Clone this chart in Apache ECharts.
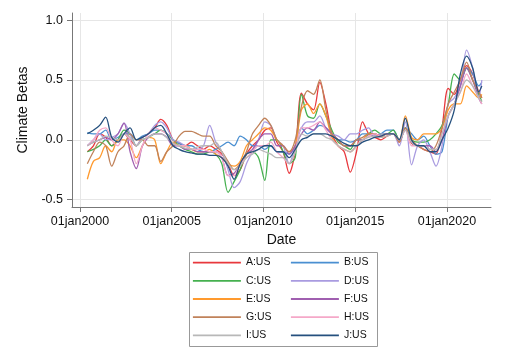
<!DOCTYPE html>
<html><head><meta charset="utf-8">
<script src="https://cdn.jsdelivr.net/npm/echarts@6/dist/echarts.min.js"></script>
<style>html,body{margin:0;padding:0;background:#fff}#c{width:512px;height:347px}</style>
</head><body><div id="c"></div>
<script>
const dates = [2000.40,2000.73,2001.07,2001.40,2001.73,2002.07,2002.40,2002.73,2003.07,2003.40,2003.73,2004.07,2004.40,2004.73,2005.07,2005.40,2005.73,2006.07,2006.40,2006.73,2007.07,2007.40,2007.73,2008.07,2008.40,2008.73,2009.07,2009.40,2009.73,2010.07,2010.40,2010.73,2011.07,2011.40,2011.73,2012.07,2012.40,2012.73,2013.07,2013.40,2013.73,2014.07,2014.40,2014.73,2015.07,2015.40,2015.73,2016.07,2016.40,2016.73,2017.07,2017.40,2017.73,2018.07,2018.40,2018.73,2019.07,2019.40,2019.73,2020.07,2020.40,2020.73,2021.07,2021.40,2021.73,2021.90];
const xTicks = [2000,2005,2010,2015,2020];
const yTicks = [-0.5,0,0.5,1.0];
const names = ['A:US','B:US','C:US','D:US','E:US','F:US','G:US','H:US','I:US','J:US'];
const A = [-0.1,-0.05,0.05,0.02,-0.05,0.0,0.05,0.0,-0.05,0.02,0.05,0.1,0.17,0.12,0.0,-0.03,-0.05,-0.02,-0.05,-0.08,-0.05,-0.08,-0.12,-0.2,-0.3,-0.25,-0.12,-0.05,0.0,0.08,0.1,-0.02,-0.1,-0.28,-0.1,0.39,0.3,0.25,0.48,0.3,0.05,-0.05,-0.1,-0.27,-0.1,0.15,0.05,0.02,0.0,0.03,0.05,-0.02,0.1,-0.03,-0.05,-0.08,-0.1,-0.12,0.1,0.43,0.38,0.5,0.62,0.55,0.4,0.35];
const B = [0.06,0.05,0.05,0.08,0.0,0.02,0.05,0.05,0.0,0.03,0.05,0.08,0.08,0.05,0.0,-0.03,-0.05,-0.05,-0.08,-0.1,-0.1,-0.08,-0.05,-0.02,-0.05,0.03,0.0,-0.05,-0.05,-0.08,-0.05,-0.1,-0.1,-0.12,-0.05,0.1,0.05,0.08,0.12,0.1,0.05,0.0,0.0,-0.02,0.0,0.05,0.05,0.03,0.05,0.08,0.08,0.0,0.1,0.05,0.0,0.03,-0.05,-0.12,-0.1,0.2,0.3,0.45,0.6,0.55,0.45,0.48];
const C = [-0.1,-0.08,-0.05,0.0,-0.05,0.0,0.08,0.05,-0.05,0.0,0.02,0.05,0.08,0.05,0.0,-0.05,-0.08,-0.1,-0.12,-0.12,-0.1,-0.12,-0.2,-0.44,-0.35,-0.25,-0.12,-0.1,-0.15,-0.34,0.0,0.0,-0.1,-0.2,-0.15,0.38,0.2,0.18,0.3,0.2,0.08,-0.02,-0.05,-0.08,0.0,0.0,0.05,0.08,0.05,0.05,0.08,0.0,0.1,0.0,-0.02,-0.02,0.0,0.05,0.12,0.3,0.55,0.5,0.6,0.5,0.38,0.32];
const D = [-0.05,0.0,0.05,0.0,0.02,0.05,0.14,0.05,-0.05,0.02,0.05,0.12,0.15,0.1,0.0,-0.02,-0.05,-0.08,-0.08,-0.05,0.12,-0.02,-0.1,-0.25,-0.4,-0.35,-0.2,-0.1,0.0,0.15,0.12,0.0,-0.05,-0.2,-0.05,0.1,0.15,0.15,0.2,0.1,0.05,0.03,0.0,0.05,0.05,0.08,0.1,0.03,0.05,0.05,0.05,-0.05,0.15,-0.21,-0.05,0.0,-0.1,-0.22,-0.05,0.3,0.35,0.45,0.75,0.6,0.35,0.5];
const E = [-0.33,-0.18,-0.15,-0.05,-0.1,0.0,0.0,-0.05,-0.15,-0.05,0.02,0.0,-0.2,-0.1,-0.02,-0.05,-0.05,-0.08,-0.1,-0.1,-0.08,-0.12,-0.15,-0.2,-0.22,-0.18,-0.05,0.0,0.05,0.1,0.08,0.0,-0.05,-0.1,-0.05,0.25,0.3,0.22,0.3,0.2,0.02,-0.05,-0.08,-0.1,-0.05,0.0,0.05,0.05,0.02,0.05,0.05,0.0,0.2,0.02,0.0,0.05,0.05,0.05,0.1,0.25,0.3,0.3,0.45,0.4,0.35,0.38];
const F = [-0.05,-0.02,0.0,0.02,0.0,0.05,0.14,-0.1,-0.24,-0.05,0.02,0.05,0.05,0.02,-0.05,-0.05,-0.08,-0.08,-0.1,-0.1,-0.1,-0.1,-0.15,-0.3,-0.28,-0.2,-0.12,-0.08,0.0,0.05,0.05,-0.05,-0.05,-0.12,-0.05,0.05,0.1,0.08,0.15,0.1,0.05,0.0,-0.05,-0.05,0.0,0.0,0.03,0.05,0.03,0.05,0.05,0.0,0.08,-0.02,-0.05,-0.05,-0.05,-0.1,0.0,0.2,0.3,0.45,0.6,0.5,0.35,0.3];
const G = [-0.2,-0.1,-0.02,-0.05,-0.22,-0.1,-0.05,0.05,0.0,0.0,-0.05,-0.05,-0.18,-0.1,-0.05,0.03,0.07,0.07,0.05,0.03,0.03,-0.05,-0.1,-0.18,-0.25,-0.2,-0.1,0.05,0.12,0.18,0.12,0.0,-0.05,-0.1,0.0,0.28,0.41,0.38,0.5,0.25,0.05,0.0,-0.05,-0.05,0.0,0.02,0.05,0.05,0.03,0.05,0.05,-0.02,0.1,0.0,-0.05,-0.08,-0.1,-0.05,0.1,0.3,0.4,0.5,0.65,0.5,0.4,0.35];
const H = [-0.05,0.0,0.08,0.1,0.0,-0.05,0.05,0.0,-0.2,-0.05,0.05,0.1,0.08,0.05,-0.03,-0.05,-0.05,-0.08,-0.08,-0.08,-0.1,-0.1,-0.15,-0.3,-0.3,-0.2,-0.15,-0.1,-0.05,-0.05,-0.02,-0.1,-0.15,-0.2,-0.1,0.1,0.1,0.12,0.15,0.08,0.0,-0.05,-0.08,-0.1,-0.05,0.0,0.03,0.05,0.03,0.05,0.05,0.0,0.08,-0.05,-0.05,-0.05,-0.08,-0.08,0.05,0.2,0.3,0.4,0.55,0.45,0.35,0.3];
const I = [-0.05,-0.02,0.0,0.03,0.02,0.0,0.05,0.02,-0.05,0.0,0.02,0.05,0.05,0.02,-0.03,-0.05,-0.07,-0.08,-0.06,-0.05,-0.05,-0.02,-0.1,-0.2,-0.25,-0.22,-0.15,-0.12,-0.08,-0.1,-0.12,-0.15,-0.15,-0.2,-0.1,0.05,0.03,0.05,0.05,0.02,0.0,-0.05,-0.08,-0.1,-0.05,0.0,0.02,0.03,0.02,0.03,0.05,0.0,0.08,-0.02,-0.05,-0.05,-0.08,-0.08,0.05,0.2,0.3,0.4,0.5,0.45,0.35,0.32];
const J = [0.05,0.08,0.12,0.19,0.02,-0.02,0.05,0.1,0.0,0.02,0.05,0.1,0.12,0.05,-0.05,-0.08,-0.1,-0.11,-0.12,-0.12,-0.13,-0.13,-0.15,-0.22,-0.33,-0.2,-0.12,-0.1,-0.08,-0.05,-0.05,-0.1,-0.1,-0.15,-0.08,0.0,0.02,0.05,0.05,0.05,0.03,0.0,-0.03,-0.05,-0.05,-0.02,0.0,0.02,0.03,0.05,0.05,0.0,0.18,0.0,-0.05,-0.05,-0.1,-0.1,0.0,0.1,0.25,0.55,0.7,0.6,0.4,0.45];
const values = [A,B,C,D,E,F,G,H,I,J];
const colors = ['#e8383d','#4a8fd1','#45b04f','#a99be0','#ff9a2e','#a05fb0','#c0825a','#f5a8c8','#b8b8b8','#25507e'];

const FONT = '"Liberation Sans", Arial, sans-serif';
const chart = echarts.init(document.getElementById('c'), null, {renderer:'canvas'});
const series = names.map((n,k)=>({
  name:n, type:'line', symbol:'none', smooth:0.3,
  data: dates.map((d,i)=>[d, values[k][i]]),
  lineStyle:{width:1.3, color:colors[k]}, itemStyle:{color:colors[k]}
}));
const legendCommon = {orient:'vertical', top:257, padding:0, itemWidth:48, itemHeight:14, itemGap:7,
  itemStyle:{opacity:0}, lineStyle:{width:1.8},
  textStyle:{fontSize:10.5,color:'#111',fontFamily:FONT}};
chart.setOption({
  animation:false,
  backgroundColor:'#fff',
  textStyle:{fontFamily:FONT},
  grid:{left:72,right:21,top:13,bottom:140},
  xAxis:{type:'value', min:1999.564, max:2022.4,
    name:'Date', nameLocation:'middle', nameGap:20,
    nameTextStyle:{fontSize:14,color:'#111',fontFamily:FONT},
    axisLine:{show:true,onZero:false,lineStyle:{color:'#777',width:1}},
    axisTick:{show:true,length:5,customValues:xTicks,lineStyle:{color:'#777'}},
    axisLabel:{customValues:xTicks,fontSize:12.5,color:'#111',margin:8,fontFamily:FONT,formatter:v=>'01jan'+Math.round(v)},
    splitLine:{show:true,lineStyle:{color:'#e6e6e6',width:1}}
  },
  yAxis:{type:'value', min:-0.562, max:1.06,
    name:'Climate Betas', nameLocation:'middle', nameGap:36, nameRotate:90,
    nameTextStyle:{fontSize:14,color:'#111',fontFamily:FONT},
    axisLine:{show:true,onZero:false,lineStyle:{color:'#777',width:1}},
    axisTick:{show:true,length:5,customValues:yTicks,lineStyle:{color:'#777'}},
    axisLabel:{customValues:yTicks,fontSize:12.5,color:'#111',margin:9,fontFamily:FONT,formatter:v=>v.toFixed(1)},
    splitLine:{show:true,lineStyle:{color:'#e6e6e6',width:1}}
  },
  legend:[
    Object.assign({data:['A:US','C:US','E:US','G:US','I:US'], left:192}, legendCommon),
    Object.assign({data:['B:US','D:US','F:US','H:US','J:US'], left:290}, legendCommon)
  ],
  graphic:[{type:'rect', left:187, top:250, shape:{width:188, height:94}, style:{fill:'none', stroke:'#999', lineWidth:1}}],
  series
});
</script></body></html>
